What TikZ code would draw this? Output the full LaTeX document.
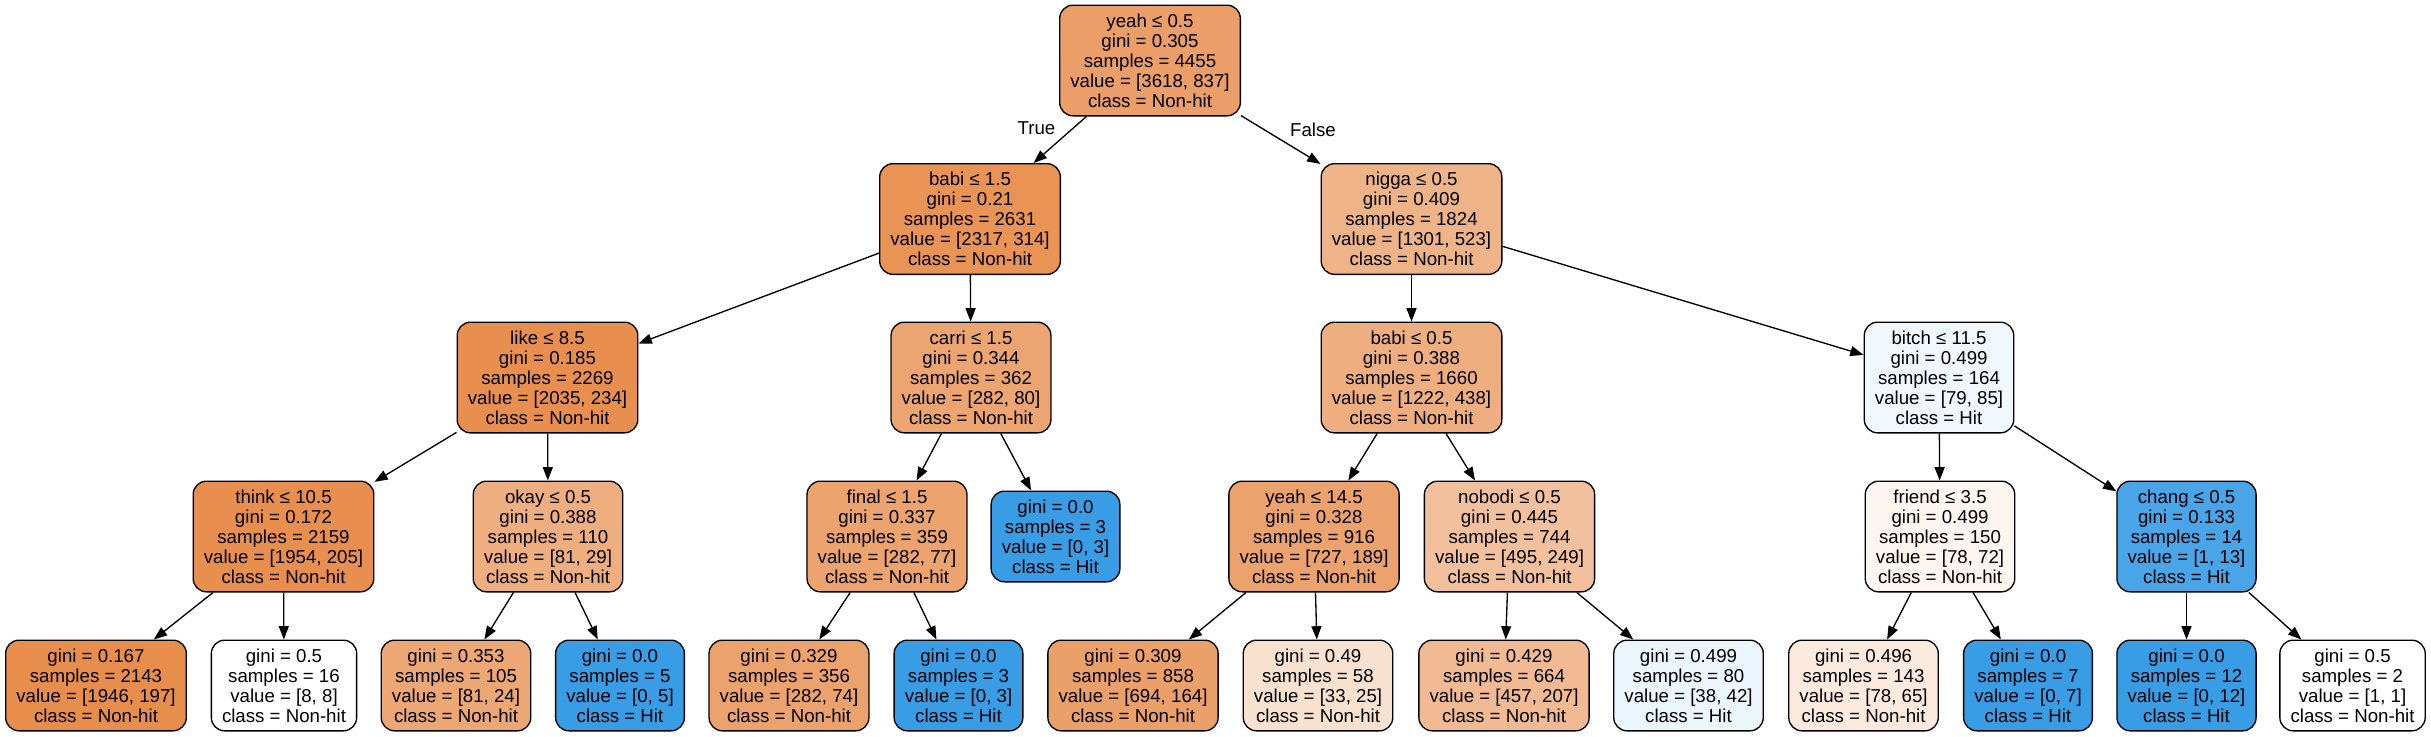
\documentclass[tikz,border=0pt]{standalone}
\usepackage{fontspec}
\setmainfont{Liberation Sans}
\usetikzlibrary{arrows.meta}
\definecolor{nonhit}{HTML}{E58139}
\definecolor{hit}{HTML}{399DE5}

\begin{document}
\begin{tikzpicture}[x=0.75pt, y=-0.75pt, font=\fontsize{14}{15}\selectfont,
	splitnode/.style={draw, rounded corners=10pt, align=center, line width=1pt, inner xsep=8pt, inner ysep=0pt, minimum height=83pt},
	leafnode/.style={splitnode, minimum height=68pt},
	branch/.style={-{Triangle[length=10pt,width=7.5pt]}, line width=1pt}]
	\fill[white] (0,0) rectangle (2431,736);
	\useasboundingbox (0,0) rectangle (2431,736);
	\node[splitnode, fill=nonhit!77] at (1150,60.5) (A) {yeah ≤ 0.5\\gini = 0.305\\samples = 4455\\value = [3618, 837]\\class = Non-hit};
	\node[splitnode, fill=nonhit!86] at (970,219) (B) {babi ≤ 1.5\\gini = 0.21\\samples = 2631\\value = [2317, 314]\\class = Non-hit};
	\node[splitnode, fill=nonhit!60] at (1411.5,219) (C) {nigga ≤ 0.5\\gini = 0.409\\samples = 1824\\value = [1301, 523]\\class = Non-hit};
	\node[splitnode, fill=nonhit!88.5] at (547.5,377.5) (D) {like ≤ 8.5\\gini = 0.185\\samples = 2269\\value = [2035, 234]\\class = Non-hit};
	\node[splitnode, fill=nonhit!72] at (971,377.5) (E) {carri ≤ 1.5\\gini = 0.344\\samples = 362\\value = [282, 80]\\class = Non-hit};
	\node[splitnode, fill=nonhit!64] at (1411.5,377.5) (F) {babi ≤ 0.5\\gini = 0.388\\samples = 1660\\value = [1222, 438]\\class = Non-hit};
	\node[splitnode, fill=hit!7] at (1939,377.5) (G) {bitch ≤ 11.5\\gini = 0.499\\samples = 164\\value = [79, 85]\\class = Hit};
	\node[splitnode, fill=nonhit!89.5] at (283.5,536.5) (H) {think ≤ 10.5\\gini = 0.172\\samples = 2159\\value = [1954, 205]\\class = Non-hit};
	\node[splitnode, fill=nonhit!64] at (548,536.5) (I) {okay ≤ 0.5\\gini = 0.388\\samples = 110\\value = [81, 29]\\class = Non-hit};
	\node[splitnode, fill=nonhit!73] at (887,536.5) (J) {final ≤ 1.5\\gini = 0.337\\samples = 359\\value = [282, 77]\\class = Non-hit};
	\node[leafnode, fill=hit] at (1055.5,536.5) (K) {gini = 0.0\\samples = 3\\value = [0, 3]\\class = Hit};
	\node[splitnode, fill=nonhit!74] at (1314,536.5) (L) {yeah ≤ 14.5\\gini = 0.328\\samples = 916\\value = [727, 189]\\class = Non-hit};
	\node[splitnode, fill=nonhit!50] at (1509.5,536.5) (M) {nobodi ≤ 0.5\\gini = 0.445\\samples = 744\\value = [495, 249]\\class = Non-hit};
	\node[splitnode, fill=nonhit!8] at (1940,536.5) (N) {friend ≤ 3.5\\gini = 0.499\\samples = 150\\value = [78, 72]\\class = Non-hit};
	\node[splitnode, fill=hit!92] at (2186.5,536.5) (O) {chang ≤ 0.5\\gini = 0.133\\samples = 14\\value = [1, 13]\\class = Hit};
	\node[leafnode, fill=nonhit!90] at (96,685.5) (P) {gini = 0.167\\samples = 2143\\value = [1946, 197]\\class = Non-hit};
	\node[leafnode, fill=white] at (284,685.5) (Q) {gini = 0.5\\samples = 16\\value = [8, 8]\\class = Non-hit};
	\node[leafnode, fill=nonhit!70] at (456,685.5) (R) {gini = 0.353\\samples = 105\\value = [81, 24]\\class = Non-hit};
	\node[leafnode, fill=hit] at (620,685.5) (S) {gini = 0.0\\samples = 5\\value = [0, 5]\\class = Hit};
	\node[leafnode, fill=nonhit!74] at (789,685.5) (T) {gini = 0.329\\samples = 356\\value = [282, 74]\\class = Non-hit};
	\node[leafnode, fill=hit] at (958.5,685.5) (U) {gini = 0.0\\samples = 3\\value = [0, 3]\\class = Hit};
	\node[leafnode, fill=nonhit!76] at (1133,685.5) (V) {gini = 0.309\\samples = 858\\value = [694, 164]\\class = Non-hit};
	\node[leafnode, fill=nonhit!24] at (1318,685.5) (W) {gini = 0.49\\samples = 58\\value = [33, 25]\\class = Non-hit};
	\node[leafnode, fill=nonhit!55] at (1504,685.5) (X) {gini = 0.429\\samples = 664\\value = [457, 207]\\class = Non-hit};
	\node[leafnode, fill=hit!10] at (1688.5,685.5) (Y) {gini = 0.499\\samples = 80\\value = [38, 42]\\class = Hit};
	\node[leafnode, fill=nonhit!17] at (1863.5,685.5) (Z) {gini = 0.496\\samples = 143\\value = [78, 65]\\class = Non-hit};
	\node[leafnode, fill=hit] at (2028,685.5) (AA) {gini = 0.0\\samples = 7\\value = [0, 7]\\class = Hit};
	\node[leafnode, fill=hit] at (2186.5,685.5) (AB) {gini = 0.0\\samples = 12\\value = [0, 12]\\class = Hit};
	\node[leafnode, fill=white] at (2352.5,685.5) (AC) {gini = 0.5\\samples = 2\\value = [1, 1]\\class = Non-hit};
	\node at (1036.5,128) (yes) {True};
	\node at (1313,130) (no) {False};
	\draw[branch] (A) -- (B);
	\draw[branch] (A) -- (C);
	\draw[branch] (B) -- (D);
	\draw[branch] (B) -- (E);
	\draw[branch] (C) -- (F);
	\draw[branch] (C) -- (G);
	\draw[branch] (D) -- (H);
	\draw[branch] (D) -- (I);
	\draw[branch] (E) -- (J);
	\draw[branch] (E) -- (K);
	\draw[branch] (F) -- (L);
	\draw[branch] (F) -- (M);
	\draw[branch] (G) -- (N);
	\draw[branch] (G) -- (O);
	\draw[branch] (H) -- (P);
	\draw[branch] (H) -- (Q);
	\draw[branch] (I) -- (R);
	\draw[branch] (I) -- (S);
	\draw[branch] (J) -- (T);
	\draw[branch] (J) -- (U);
	\draw[branch] (L) -- (V);
	\draw[branch] (L) -- (W);
	\draw[branch] (M) -- (X);
	\draw[branch] (M) -- (Y);
	\draw[branch] (N) -- (Z);
	\draw[branch] (N) -- (AA);
	\draw[branch] (O) -- (AB);
	\draw[branch] (O) -- (AC);
\end{tikzpicture}
\end{document}
